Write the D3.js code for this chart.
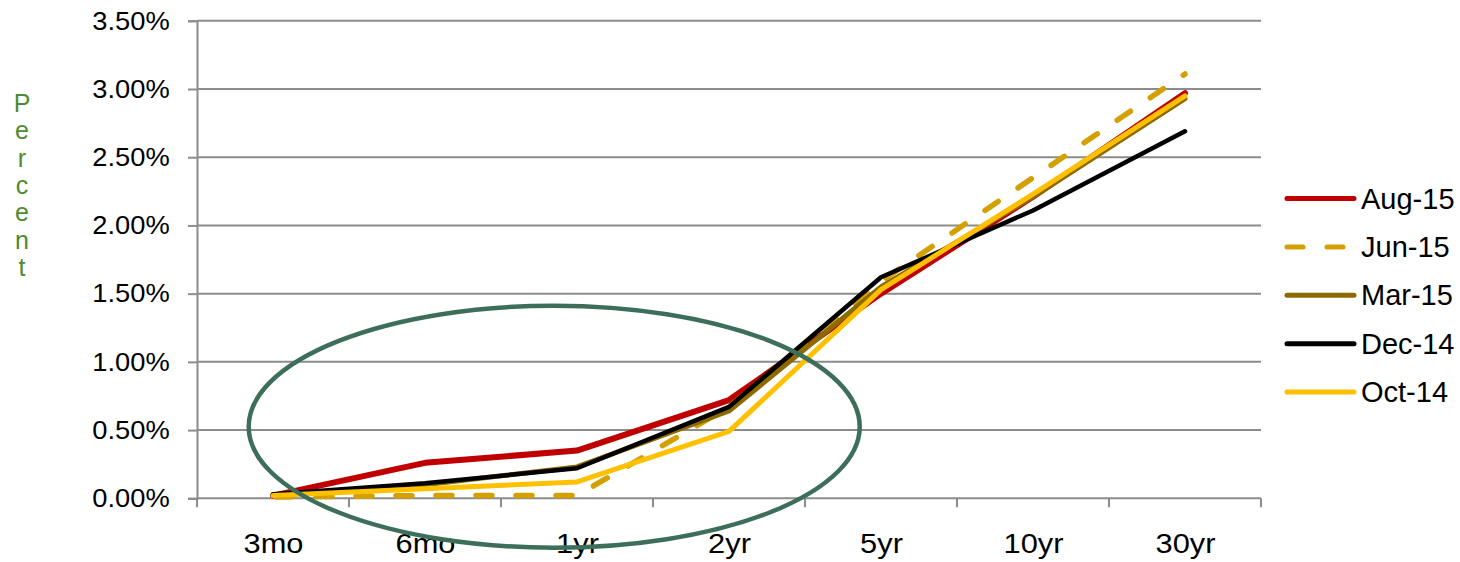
<!DOCTYPE html>
<html>
<head>
<meta charset="utf-8">
<script src="https://cdn.jsdelivr.net/npm/d3@7"></script>
<style>
  html, body { margin: 0; padding: 0; background: #fff; }
  svg { display: block; font-family: "Liberation Sans", Arial, sans-serif; }
</style>
</head>
<body>
<svg id="chart" width="1460" height="562"></svg>
<script>
// Treasury yield curve by maturity, percent
const categories = ["3mo", "6mo", "1yr", "2yr", "5yr", "10yr", "30yr"];
const seriesNames = ["Aug-15", "Jun-15", "Mar-15", "Dec-14", "Oct-14"];
const aug15 = [0.02, 0.26, 0.35, 0.72, 1.50, 2.21, 2.97];
const jun15 = [0.01, 0.02, 0.02, 0.67, 1.59, 2.35, 3.11];
const mar15 = [0.02, 0.10, 0.23, 0.64, 1.55, 2.21, 2.93];
const dec14 = [0.03, 0.11, 0.22, 0.67, 1.62, 2.11, 2.69];
const oct14 = [0.02, 0.07, 0.12, 0.49, 1.53, 2.23, 2.95];
const yTicks = [0, 0.5, 1.0, 1.5, 2.0, 2.5, 3.0, 3.5];

const seriesValues = [aug15, jun15, mar15, dec14, oct14];
const seriesStyle = [
  { color: "#C00000", width: 6,   dash: null },
  { color: "#D4A000", width: 5.5, dash: "16,24" },
  { color: "#8C6A00", width: 5,   dash: null },
  { color: "#000000", width: 4.5, dash: null },
  { color: "#FFC000", width: 5,   dash: null }
];

const svg = d3.select("#chart");
const plot = { left: 197, right: 1261, top: 20.8, bottom: 498.3 };

const band = d3.scaleBand().domain(categories).range([plot.left, plot.right]).paddingInner(0).paddingOuter(0);
const x = d3.scalePoint().domain(categories).range([plot.left, plot.right]).padding(0.5);
const y = d3.scaleLinear().domain([0, 3.5]).range([plot.bottom, plot.top]);

const gridColor = "#8C8C8C";

// horizontal gridlines
svg.append("g")
  .selectAll("line")
  .data(yTicks.filter(d => d > 0))
  .join("line")
  .attr("x1", plot.left).attr("x2", plot.right)
  .attr("y1", d => y(d)).attr("y2", d => y(d))
  .attr("stroke", gridColor).attr("stroke-width", 2);

// y axis
const yAxis = svg.append("g")
  .attr("transform", `translate(${plot.left},0)`)
  .call(d3.axisLeft(y).tickValues(yTicks).tickSize(9).tickPadding(17)
    .tickFormat(d => d.toFixed(2) + "%"));
yAxis.select(".domain").attr("stroke", gridColor).attr("stroke-width", 2);
yAxis.selectAll(".tick line").attr("stroke", gridColor).attr("stroke-width", 2);
yAxis.selectAll(".tick text")
  .attr("font-size", 26).attr("fill", "#000")
  .attr("font-family", "Liberation Sans, Arial, sans-serif")
  .attr("transform", "scale(1.05,1)");

// x axis: labels at category centers, tick marks at category boundaries
const xAxis = svg.append("g")
  .attr("transform", `translate(0,${plot.bottom})`)
  .call(d3.axisBottom(x).tickSize(0).tickPadding(35));
xAxis.select(".domain").remove();
xAxis.selectAll(".tick text")
  .attr("font-size", 28).attr("fill", "#000")
  .attr("font-family", "Liberation Sans, Arial, sans-serif")
  .attr("transform", "scale(1.1,1)");

const edges = categories.map(c => band(c)).concat([band.range()[1]]);
svg.append("line")
  .attr("x1", plot.left).attr("x2", plot.right)
  .attr("y1", plot.bottom).attr("y2", plot.bottom)
  .attr("stroke", gridColor).attr("stroke-width", 2);
svg.append("g")
  .selectAll("line")
  .data(edges)
  .join("line")
  .attr("x1", d => d).attr("x2", d => d)
  .attr("y1", plot.bottom).attr("y2", plot.bottom + 9)
  .attr("stroke", gridColor).attr("stroke-width", 2);

// yield curves
const line = d3.line().x((d, i) => x(categories[i])).y(d => y(d));
seriesValues.forEach((vals, k) => {
  const st = seriesStyle[k];
  const p = svg.append("path")
    .datum(vals)
    .attr("d", line)
    .attr("fill", "none")
    .attr("stroke", st.color)
    .attr("stroke-width", st.width)
    .attr("stroke-linejoin", "round")
    .attr("stroke-linecap", "round");
  if (st.dash) p.attr("stroke-dasharray", st.dash).attr("stroke-dashoffset", -3);
});

// highlight ring around the short end of the curve
const ring = { catIndex: 1.85, value: 0.525, halfCats: 2.01, halfValue: 0.887 };
const step = x.step();
svg.append("ellipse")
  .attr("cx", x(categories[0]) + ring.catIndex * step)
  .attr("cy", y(ring.value))
  .attr("rx", ring.halfCats * step)
  .attr("ry", y(0) - y(ring.halfValue))
  .attr("fill", "none")
  .attr("stroke", "#3C6E5A")
  .attr("stroke-width", 4.5);

// vertical axis title, one letter per line
const title = "Percent";
svg.append("text")
  .attr("x", 22).attr("y", 0)
  .attr("fill", "#4E8A2E")
  .attr("font-size", 25)
  .attr("text-anchor", "middle")
  .selectAll("tspan")
  .data(title.split(""))
  .join("tspan")
  .attr("x", 22)
  .attr("y", (d, i) => 112 + i * 27.3)
  .text(d => d);

// legend
const legend = svg.append("g").attr("transform", "translate(1287,0)");
const rows = legend.selectAll("g")
  .data(seriesNames)
  .join("g")
  .attr("transform", (d, i) => `translate(0,${198.5 + i * 48.4})`);
rows.append("line")
  .attr("x1", 0).attr("x2", (d, i) => seriesStyle[i].dash ? 62 : 67)
  .attr("y1", 0).attr("y2", 0)
  .attr("stroke", (d, i) => seriesStyle[i].color)
  .attr("stroke-width", 5)
  .attr("stroke-linecap", "round")
  .attr("stroke-dasharray", (d, i) => seriesStyle[i].dash);
rows.append("text")
  .attr("x", 74).attr("y", 10)
  .attr("font-size", 29)
  .attr("fill", "#000")
  .text(d => d);
</script>
</body>
</html>
